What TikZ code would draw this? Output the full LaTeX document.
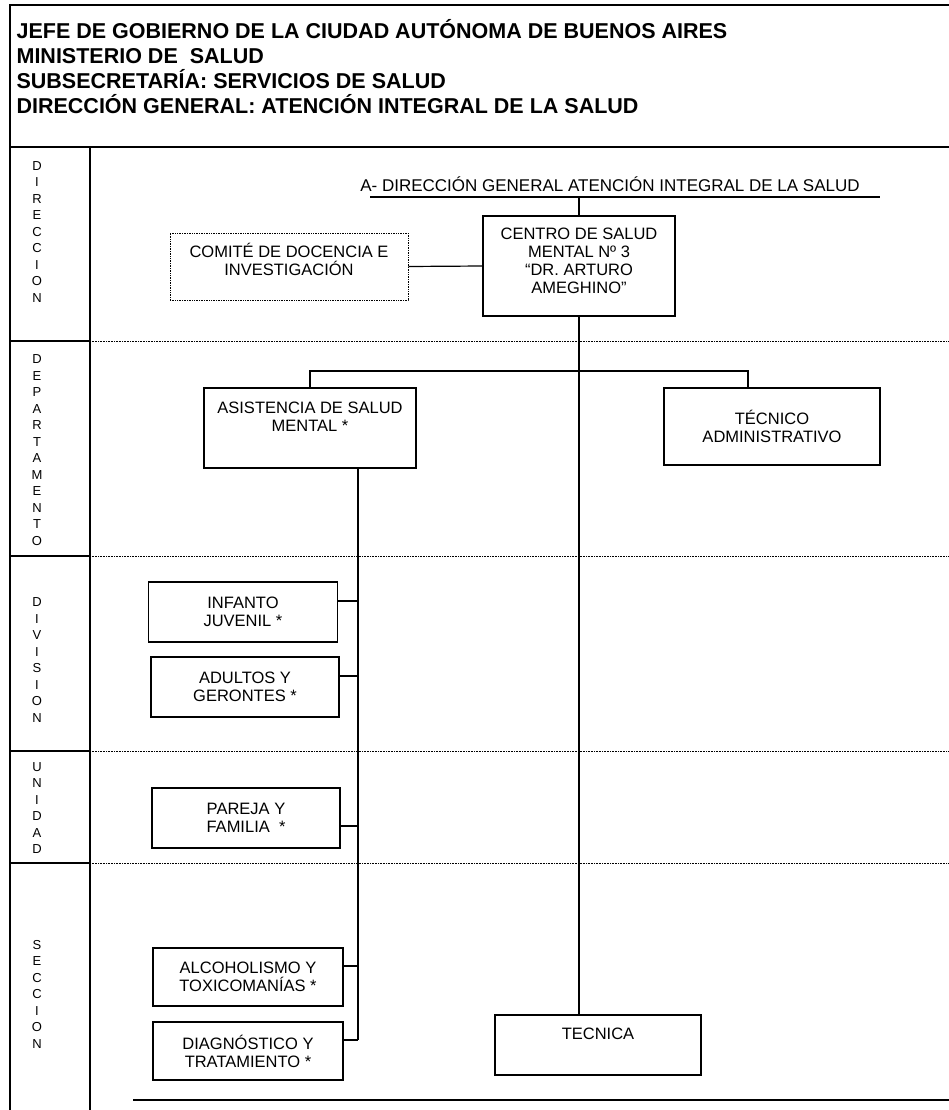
\documentclass[tikz,border=0pt]{standalone}
\usepackage{fontspec}
\setmainfont{Liberation Sans}
\begin{document}
\begin{tikzpicture}[
                    x=1pt, y=-1pt,
                    line width=1.2pt,
                    unit/.style={draw, rectangle, align=center, inner sep=2pt,
                                 font=\fontsize{16.5}{18}\selectfont},
                    staff/.style={unit, densely dotted, line width=0.7pt},
                    rowlbl/.style={align=center, inner sep=0pt, font=\fontsize{13}{16.5}\selectfont},
                    level/.style={densely dotted, line width=0.6pt}
                    ]
    \useasboundingbox (0,0) rectangle (949,1110);

    % marco y encabezado
    \draw (10,1110) -- (10,5) -- (949,5);
    \draw (10,147) -- (949,147);
    \draw (90,147) -- (90,1110);
    \node[anchor=north west, align=left, inner sep=0pt,
          font=\bfseries\fontsize{21.5}{25}\selectfont] (titulo) at (16,19)
          {JEFE DE GOBIERNO DE LA CIUDAD AUTÓNOMA DE BUENOS AIRES\\
           MINISTERIO DE~ SALUD\\
           SUBSECRETARÍA: SERVICIOS DE SALUD\\
           DIRECCIÓN GENERAL: ATENCIÓN INTEGRAL DE LA SALUD};

    % niveles
    \foreach \y in {341,556,751,863} {
        \draw (10,\y) -- (90,\y);
        \draw[level] (90,\y) -- (949,\y);
    }
    \draw (133,1100) -- (949,1100);

    \node[rowlbl] (direccion) at (37,232) {D\\I\\R\\E\\C\\C\\I\\O\\N};
    \node[rowlbl] (departamento) at (37,450) {D\\E\\P\\A\\R\\T\\A\\M\\E\\N\\T\\O};
    \node[rowlbl] (division) at (37,660) {D\\I\\V\\I\\S\\I\\O\\N};
    \node[rowlbl] (unidad) at (37,808) {U\\N\\I\\D\\A\\D};
    \node[rowlbl] (seccion) at (37,994) {S\\E\\C\\C\\I\\O\\N};

    % unidades
    \node[font=\fontsize{17}{20}\selectfont] (dg) at (610,184) {A- DIRECCIÓN GENERAL ATENCIÓN INTEGRAL DE LA SALUD};
    \coordinate (dgL) at (370,197);
    \coordinate (dgR) at (880,197);

    \node[unit, minimum width=192pt, minimum height=100pt, text depth=10pt] (centro) at (579,266)
         {CENTRO DE SALUD\\MENTAL Nº 3\\“DR. ARTURO\\AMEGHINO”};
    \node[staff, minimum width=238pt, minimum height=67pt, text depth=14pt] (comite) at (289,266.5)
         {COMITÉ DE DOCENCIA E\\INVESTIGACIÓN};
    \node[unit, minimum width=212pt, minimum height=80pt, text depth=22pt] (asist) at (310,428)
         {ASISTENCIA DE SALUD\\MENTAL *};
    \node[unit, minimum width=216pt, minimum height=77pt] (tecadm) at (772,426.5)
         {TÉCNICO\\ADMINISTRATIVO};
    \node[unit, minimum width=189pt, minimum height=60pt] (infanto) at (243,612) {INFANTO\\JUVENIL *};
    \node[unit, minimum width=188pt, minimum height=60pt] (adultos) at (245,687) {ADULTOS Y\\GERONTES *};
    \node[unit, minimum width=188pt, minimum height=60pt] (pareja) at (246,818) {PAREJA Y\\FAMILIA~ *};
    \node[unit, minimum width=190pt, minimum height=58pt] (alcohol) at (248,977) {ALCOHOLISMO Y\\TOXICOMANÍAS *};
    \node[unit, minimum width=190pt, minimum height=58pt] (diag) at (248,1051) {DIAGNÓSTICO Y\\TRATAMIENTO *};
    \node[unit, minimum width=206pt, minimum height=60pt, text depth=22pt] (tecnica) at (598,1045) {TECNICA};

    % conexiones
    \draw (dgL) -- (dgR);
    \draw (centro.north) -- (centro.north |- dgL);
    \draw (comite.east) -- (centro.west);
    \draw (centro.south) -- (centro.south |- tecnica.north);

    \coordinate (ramal) at (579,371);
    \coordinate (tadrop) at ([xshift=-24pt]tecadm.north);
    \draw (asist.north) -- (asist.north |- ramal) -- (tadrop |- ramal) -- (tadrop);

    \coordinate (eje) at (358,0);
    \draw (asist.south -| eje) -- ([yshift=11pt]diag.east -| eje);
    \foreach \n/\d in {infanto/11pt, adultos/11pt, pareja/-8pt, alcohol/11pt, diag/11pt}
        \draw ([yshift=\d]\n.east) -- ([yshift=\d]\n.east -| eje);
\end{tikzpicture}
\end{document}
